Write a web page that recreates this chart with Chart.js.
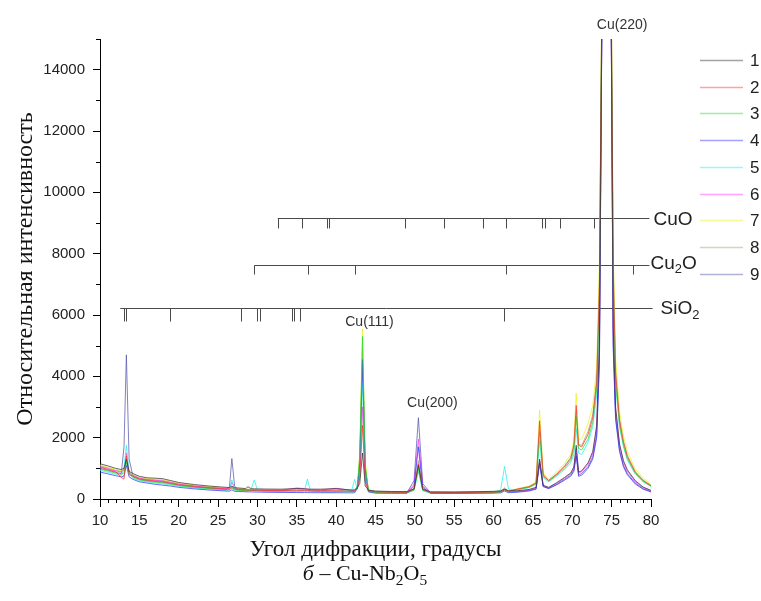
<!DOCTYPE html>
<html>
<head>
<meta charset="utf-8">
<script src="https://cdn.jsdelivr.net/npm/chart.js@4.4.0/dist/chart.umd.min.js"></script>
<style>
  body { margin: 0; background: #fff; }
  #wrap { position: relative; width: 761px; height: 601px; }
  #caption { position: absolute; left: 0; top: 560px; width: 730px; text-align: center;
             font-family: 'Liberation Serif', serif; font-size: 22px; line-height: 26px; color: #111; }
  #caption sub { font-size: 0.7em; line-height: 0; }
</style>
</head>
<body>
<div id="wrap">
  <canvas id="xrdChart" width="761" height="601"></canvas>
  <div id="caption"><i>б</i> – Cu-Nb<sub>2</sub>O<sub>5</sub></div>
</div>
<script>
// diffraction angle grid, degrees
const angles = [10, 11, 12, 12.7, 13.05, 13.35, 13.7, 14.2, 15, 16, 17, 18, 19, 20, 22, 24, 26,
  26.45, 26.75, 27.1, 27.6, 28.5, 28.8, 29.2, 29.6, 30.0, 31, 33, 35, 36.0, 36.35, 36.7, 38, 40,
  42.0, 42.35, 42.7, 43.0, 43.35, 43.7, 44.1, 45, 47, 49, 49.9, 50.45, 51.0, 52, 55, 58, 60,
  60.9, 61.4, 61.9, 63, 64.5, 65.4, 65.85, 66.3, 67, 68, 69, 69.8, 70.2, 70.5, 70.8, 71.2,
  72, 72.6, 73.1, 73.45, 73.75, 74.3, 74.95, 75.2, 75.5, 76, 76.5, 77, 78, 79, 80];

const s1 = [1150, 1080, 1000, 960, 1000, 1300, 900, 830, 740, 690, 680, 660, 600, 540, 470, 420, 380,
  375, 420, 365, 360, 340, 400, 335, 332, 330, 325, 320, 340, 330, 325, 322, 320, 340,
  290, 300, 380, 500, 1500, 420, 290, 260, 245, 240, 330, 1100, 320, 235, 230, 240, 250,
  265, 320, 270, 270, 310, 380, 1300, 450, 380, 530, 700, 850, 1050, 1750, 880, 920,
  1180, 1550, 2400, 5200, 15400, 26000, 15500, 5600, 3000, 1800, 1250, 950, 600, 390, 280];
const s2 = [1030, 963, 892, 700, 650, 1400, 800, 745, 659, 614, 590, 566, 519, 468, 407, 362, 326,
  321, 380, 313, 308, 293, 291, 288, 286, 283, 278, 273, 282, 276, 273, 270, 268, 270,
  250, 258, 330, 700, 2400, 550, 260, 229, 218, 215, 320, 1150, 310, 210, 208, 215, 223,
  237, 300, 242, 320, 400, 520, 2550, 780, 600, 800, 1050, 1320, 1750, 3050, 1750, 1700,
  2100, 2650, 3800, 7000, 16000, 28500, 16300, 7500, 4100, 2550, 1850, 1380, 870, 600, 430];
const s3 = [975, 911, 844, 804, 850, 1200, 800, 707, 623, 580, 550, 524, 483, 436, 379, 336, 302,
  297, 350, 290, 285, 272, 270, 267, 266, 262, 257, 252, 256, 252, 249, 247, 245, 245,
  232, 240, 400, 1400, 5300, 1100, 260, 215, 206, 204, 290, 1000, 280, 199, 198, 204, 211,
  224, 290, 230, 310, 380, 500, 2200, 740, 580, 770, 1000, 1250, 1600, 2700, 1650, 1600,
  1950, 2500, 3600, 6700, 15800, 28000, 16000, 7200, 3900, 2450, 1750, 1320, 840, 580, 420];
const s4 = [880, 820, 760, 720, 750, 1100, 720, 640, 560, 520, 480, 450, 420, 380, 330, 290, 260,
  255, 300, 250, 245, 235, 233, 230, 228, 225, 220, 215, 210, 210, 208, 207, 205, 205,
  200, 205, 350, 1200, 4550, 950, 230, 190, 185, 185, 420, 1700, 380, 180, 180, 185, 190,
  200, 260, 205, 220, 260, 320, 1150, 400, 340, 460, 610, 740, 900, 1400, 740, 780,
  1000, 1300, 2000, 4400, 15100, 24500, 15200, 4900, 2600, 1550, 1050, 790, 490, 320, 230];
const s5 = [935, 872, 808, 768, 1000, 1750, 900, 678, 596, 554, 520, 492, 456, 412, 358, 316, 284,
  320, 620, 330, 268, 256, 255, 330, 620, 290, 241, 236, 236, 300, 650, 290, 228, 230,
  300, 640, 320, 1000, 3800, 800, 250, 204, 197, 196, 280, 900, 270, 191, 190, 196, 202,
  300, 1060, 320, 300, 370, 480, 1900, 700, 560, 740, 960, 1180, 1450, 2300, 1500, 1450,
  1850, 2350, 3400, 6400, 15600, 27500, 15800, 7000, 3700, 2350, 1700, 1270, 810, 560, 410];
const s6 = [1055, 989, 916, 876, 950, 1500, 850, 764, 677, 631, 610, 587, 537, 484, 421, 375, 338,
  340, 540, 360, 320, 303, 302, 298, 296, 293, 288, 283, 360, 340, 320, 300, 290, 350,
  280, 290, 350, 800, 3000, 650, 280, 236, 224, 221, 480, 1950, 420, 216, 213, 221, 229,
  250, 360, 250, 255, 295, 360, 1250, 430, 370, 510, 680, 820, 1000, 1650, 850, 890,
  1130, 1480, 2300, 5000, 15300, 25500, 15400, 5400, 2900, 1750, 1200, 900, 570, 370, 270];
const s7 = [1110, 1041, 964, 924, 950, 1250, 880, 802, 713, 665, 650, 628, 573, 516, 449, 400, 362,
  357, 400, 348, 343, 324, 322, 319, 316, 314, 309, 304, 320, 312, 307, 305, 303, 305,
  277, 285, 420, 1500, 5550, 1200, 300, 250, 236, 232, 310, 1050, 300, 227, 222, 232, 241,
  256, 330, 262, 340, 420, 560, 2900, 850, 640, 880, 1150, 1450, 1900, 3450, 1950, 1950,
  2450, 3050, 4300, 7800, 16500, 30000, 16800, 8200, 4600, 2850, 2050, 1550, 980, 680, 480];
const s8 = [1083, 1015, 940, 900, 930, 1250, 860, 783, 695, 648, 630, 608, 555, 500, 435, 388, 350,
  345, 390, 336, 331, 314, 312, 309, 306, 304, 299, 294, 308, 300, 296, 293, 291, 292,
  268, 275, 400, 1300, 4900, 1000, 290, 243, 230, 226, 340, 1250, 320, 221, 218, 226, 235,
  250, 310, 255, 325, 405, 530, 2450, 800, 610, 820, 1080, 1350, 1780, 2900, 1780, 1750,
  2200, 2750, 3950, 7200, 16200, 29000, 16500, 7700, 4300, 2650, 1900, 1420, 900, 620, 450];
const s9 = [1000, 937, 868, 828, 1700, 4700, 1300, 726, 641, 597, 570, 545, 501, 452, 393, 349, 314,
  400, 1320, 420, 297, 282, 281, 277, 276, 272, 267, 262, 340, 320, 300, 280, 260, 320,
  260, 270, 380, 1200, 4500, 950, 270, 222, 212, 210, 600, 2650, 500, 205, 203, 210, 217,
  235, 310, 235, 240, 280, 340, 1200, 420, 350, 480, 640, 780, 950, 1500, 790, 830,
  1050, 1380, 2100, 4600, 15200, 25000, 15300, 5100, 2700, 1620, 1100, 830, 520, 340, 245];

const seriesNames = ['1', '2', '3', '4', '5', '6', '7', '8', '9'];
const seriesValues = [s1, s2, s3, s4, s5, s6, s7, s8, s9];
const seriesColors = ['#333333', '#ff3030', '#22dd22', '#3333ff', '#22eeee',
                      '#ff33ff', '#eeee22', '#a0a070', '#5555aa'];

// reference phase lines (card positions, degrees)
const phaseNames = ['CuO', 'Cu2O', 'SiO2'];
const phaseLevels = [9150, 7620, 6220];
const phaseStart = [32.58, 29.6, 12.57];
const phaseEnd = [79.8, 79.8, 80.2];
const cuoLines = [32.58, 35.63, 38.9, 39.05, 48.8, 53.7, 58.7, 61.6, 66.2, 66.5, 68.4, 72.8];
const cu2oLines = [29.6, 36.45, 42.4, 61.6, 77.75];
const sio2Lines = [13.0, 13.3, 18.9, 27.9, 30.0, 30.35, 34.45, 34.7, 35.35, 61.33];

const peakNames = ['Cu(111)', 'Cu(200)', 'Cu(220)'];
const peakAngles = [43.35, 50.45, 74.3];

function drawFormula(ctx, text, x, y, size) {
  // digits become subscripts
  let cx = x;
  for (const part of text.match(/\d+|\D+/g)) {
    const sub = /\d/.test(part);
    ctx.font = (sub ? size * 0.68 : size) + 'px "Liberation Sans", Arial, sans-serif';
    ctx.fillText(part, cx, sub ? y + size * 0.3 : y);
    cx += ctx.measureText(part).width;
  }
}

const xrdDecor = {
  id: 'xrdDecor',
  beforeDatasetsDraw(chart) {
    const { ctx, scales: { x, y } } = chart;
    const lines = [cuoLines, cu2oLines, sio2Lines];
    const tickLen = [10, 9, 13];
    ctx.save();
    ctx.strokeStyle = '#4a4a4a';
    ctx.lineWidth = 1;
    ctx.beginPath();
    phaseNames.forEach((name, k) => {
      const py = Math.round(y.getPixelForValue(phaseLevels[k])) + 0.5;
      ctx.moveTo(x.getPixelForValue(phaseStart[k]), py);
      ctx.lineTo(x.getPixelForValue(phaseEnd[k]), py);
      lines[k].forEach(a => {
        const px = Math.round(x.getPixelForValue(a)) + 0.5;
        ctx.moveTo(px, py);
        ctx.lineTo(px, py + tickLen[k]);
      });
    });
    ctx.stroke();
    ctx.restore();
  },
  afterDraw(chart) {
    const { ctx, chartArea, scales: { x, y } } = chart;
    ctx.save();
    // minor ticks
    ctx.strokeStyle = '#000';
    ctx.lineWidth = 1;
    ctx.beginPath();
    for (let v = 11; v < 80; v++) {
      if (v % 5 === 0) continue;
      const px = Math.round(x.getPixelForValue(v)) + 0.5;
      ctx.moveTo(px, chartArea.bottom);
      ctx.lineTo(px, chartArea.bottom + 4);
    }
    for (let v = 1000; v <= 15000; v += 2000) {
      const py = Math.round(y.getPixelForValue(v)) + 0.5;
      ctx.moveTo(chartArea.left - 4, py);
      ctx.lineTo(chartArea.left, py);
    }
    ctx.stroke();

    // phase labels
    ctx.fillStyle = '#222';
    ctx.textBaseline = 'middle';
    ctx.textAlign = 'left';
    const labelDx = [4, 1, 8];
    phaseNames.forEach((name, k) => {
      const py = y.getPixelForValue(phaseLevels[k]);
      drawFormula(ctx, name, x.getPixelForValue(phaseEnd[k]) + labelDx[k], py + (k === 1 ? -2 : 1), 19);
    });

    // peak labels
    ctx.font = '14px "Liberation Sans", Arial, sans-serif';
    ctx.textAlign = 'center';
    ctx.fillStyle = '#333';
    const labelPos = [[7, 322], [14, 403], [16, 25]];
    peakNames.forEach((name, k) => {
      ctx.fillText(name, x.getPixelForValue(peakAngles[k]) + labelPos[k][0], labelPos[k][1]);
    });

    // legend
    ctx.font = '17px "Liberation Sans", Arial, sans-serif';
    ctx.textAlign = 'left';
    seriesNames.forEach((name, i) => {
      const ly = Math.round(60 + i * 26.7) + 0.5;
      ctx.globalAlpha = 0.45;
      ctx.strokeStyle = seriesColors[i];
      ctx.lineWidth = 1.5;
      ctx.beginPath();
      ctx.moveTo(700, ly);
      ctx.lineTo(743, ly);
      ctx.stroke();
      ctx.globalAlpha = 1;
      ctx.fillStyle = '#222';
      ctx.fillText(name, 750, ly + 1);
    });
    ctx.restore();
  }
};

const datasets = seriesNames.map((name, i) => ({
  label: name,
  data: angles.map((a, j) => ({ x: a, y: seriesValues[i][j] })),
  borderColor: seriesColors[i] + 'bb',
  borderWidth: 1,
  pointRadius: 0,
  tension: 0,
  fill: false
}));

new Chart(document.getElementById('xrdChart').getContext('2d'), {
  type: 'line',
  data: { datasets: datasets },
  options: {
    responsive: false,
    animation: false,
    devicePixelRatio: 1,
    layout: { padding: { left: 0, right: 110, top: 39, bottom: 0 } },
    plugins: { legend: { display: false }, tooltip: { enabled: false } },
    scales: {
      x: {
        type: 'linear',
        min: 10,
        max: 80,
        ticks: { stepSize: 5, padding: 5, color: '#222',
                 font: { family: '"Liberation Sans", Arial', size: 15 } },
        grid: { drawOnChartArea: false, tickLength: 8, color: '#000' },
        border: { color: '#000', width: 1 },
        title: { display: true, text: 'Угол дифракции, градусы', color: '#111',
                 font: { family: '"Liberation Serif", "Times New Roman", serif', size: 23 },
                 padding: { top: 0, bottom: 37 } },
        afterFit(scale) { scale.height = 102; }
      },
      y: {
        type: 'linear',
        min: 0,
        max: 15000,
        ticks: { stepSize: 1000, autoSkip: false, padding: 8, color: '#222',
                 font: { family: '"Liberation Sans", Arial', size: 15 },
                 callback: v => (v % 2000 === 0 ? String(v) : '') },
        grid: { drawOnChartArea: false, tickLength: 7,
                tickColor: c => (c.tick && c.tick.value % 2000 !== 0 ? 'rgba(0,0,0,0)' : '#000') },
        border: { color: '#000', width: 1 },
        title: { display: true, text: 'Относительная интенсивность', color: '#111',
                 font: { family: '"Liberation Serif", "Times New Roman", serif', size: 24 },
                 padding: { top: 11, bottom: 0 } },
        afterFit(scale) { scale.width = 100; }
      }
    }
  },
  plugins: [xrdDecor]
});
</script>
</body>
</html>
